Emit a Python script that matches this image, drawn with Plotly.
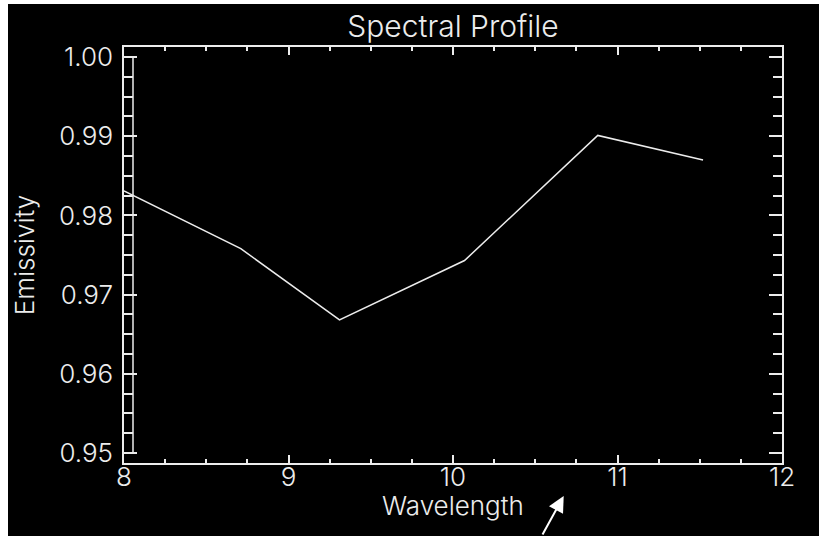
import plotly.graph_objects as go

wavelength = [8.0, 8.71, 9.31, 10.07, 10.88, 11.52]
emissivity = [0.9831, 0.9758, 0.9668, 0.9743, 0.9901, 0.9870]

x_ticks = [8, 9, 10, 11, 12]
y_ticks = [0.95, 0.96, 0.97, 0.98, 0.99, 1.00]
y_tick_text = ["0.95", "0.96", "0.97", "0.98", "0.99", "1.00"]

FG = "#ececec"
FONT = "Inter"
W = 300

fig = go.Figure()
fig.add_trace(go.Scatter(x=wavelength, y=emissivity, mode="lines",
                         line=dict(color=FG, width=1.5), showlegend=False,
                         hoverinfo="skip"))

fig.update_layout(
    width=819, height=536,
    margin=dict(l=124, r=37, t=47, b=73),
    paper_bgcolor="black", plot_bgcolor="black",
    font=dict(family=FONT, color=FG, size=26, weight=W),
    title=dict(text="Spectral Profile", x=0.5, xanchor="center", xref="paper",
               y=1, yref="paper", yanchor="bottom", pad=dict(b=10),
               font=dict(size=30, color=FG, family=FONT, weight=W)),
    showlegend=False,
)

fig.update_xaxes(
    range=[8, 12], tickvals=x_ticks, ticktext=[str(v) for v in x_ticks],
    showgrid=False, zeroline=False,
    showline=True, linecolor=FG, linewidth=1.5, mirror="ticks",
    ticks="inside", ticklen=8, tickwidth=1.5, tickcolor=FG,
    minor=dict(dtick=0.25, ticks="inside", ticklen=4, tickwidth=1.5, tickcolor=FG, showgrid=False),
    tickfont=dict(size=26, color=FG, family=FONT, weight=W),
    ticklabelstandoff=-10,
)
fig.update_yaxes(
    range=[0.948738, 1.001263], tickvals=y_ticks, ticktext=y_tick_text,
    showgrid=False, zeroline=False,
    showline=True, linecolor=FG, linewidth=1.5, mirror="ticks",
    ticks="inside", ticklen=13, tickwidth=1.5, tickcolor=FG,
    minor=dict(dtick=0.0025, tick0=0.95, ticks="inside", ticklen=9, tickwidth=1.5, tickcolor=FG, showgrid=False),
    tickfont=dict(size=26, color=FG, family=FONT, weight=W),
    ticklabelstandoff=4,
    title=dict(text="Emissivity", standoff=17, font=dict(size=26, color=FG, family=FONT, weight=W)),
)

# x-axis title
fig.add_annotation(text="Wavelength", x=0.5, xref="paper", xanchor="center",
                   y=-0.102, yref="paper", yanchor="middle", showarrow=False,
                   font=dict(size=26, color=FG, family=FONT, weight=W))

# inner rail of the left axis "ladder"
fig.add_shape(type="line", xref="x", xsizemode="pixel", xanchor=8, x0=9, x1=9,
              yref="y", y0=y_ticks[0], y1=y_ticks[-1],
              line=dict(color=FG, width=1.5), layer="above")

# white border strips (left and top of the image)
fig.add_shape(type="rect", xref="paper", xsizemode="pixel", xanchor=0, x0=-130, x1=-116,
              yref="paper", y0=-0.3, y1=1.2, line_width=0, fillcolor="white", layer="above")
fig.add_shape(type="rect", xref="paper", x0=-0.3, x1=1.2,
              yref="paper", ysizemode="pixel", yanchor=1, y0=43, y1=60,
              line_width=0, fillcolor="white", layer="above")

# pointer arrow below the axis
fig.add_annotation(x=10.673, xref="x", y=-0.0793, yref="paper", text="",
                   showarrow=True, arrowhead=2, arrowsize=1.6, arrowwidth=2,
                   arrowcolor="white", ax=-22, ay=52)

fig.write_html("out.html", config={"displayModeBar": False},
               post_script="document.body.style.margin='0';document.body.style.overflow='hidden';")
